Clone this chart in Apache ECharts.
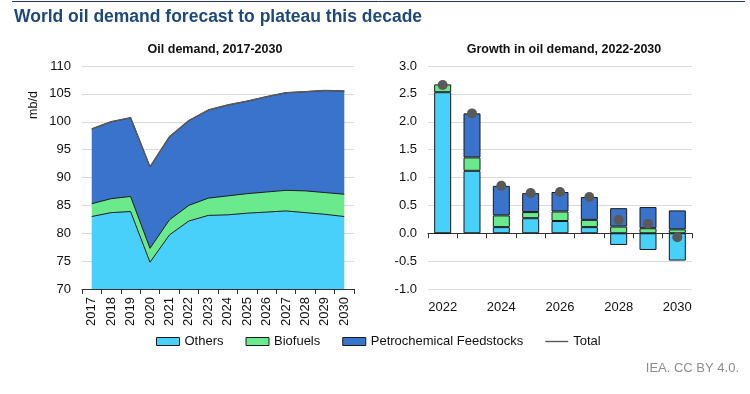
<!DOCTYPE html>
<html>
<head>
<meta charset="utf-8">
<script src="https://cdn.jsdelivr.net/npm/echarts@6/dist/echarts.min.js"></script>
<style>
html,body{margin:0;padding:0;background:#fff;}
#c{width:750px;height:394px;}
</style>
</head>
<body>
<div id="c"></div>
<script>
// ---- Data: Oil demand, 2017-2030 (mb/d) ----
var years = ['2017','2018','2019','2020','2021','2022','2023','2024','2025','2026','2027','2028','2029','2030'];
var demandOthers   = [83.0, 83.7, 83.9, 74.8, 79.7, 82.2, 83.2, 83.3, 83.6, 83.8, 84.0, 83.7, 83.4, 83.0];
var demandBiofuels = [2.3, 2.5, 2.7, 2.5, 2.7, 2.8, 3.1, 3.4, 3.5, 3.6, 3.7, 3.9, 3.9, 4.0];
var demandPetchem  = [13.4, 13.8, 14.1, 14.6, 14.9, 15.2, 15.8, 16.3, 16.6, 17.1, 17.5, 17.8, 18.3, 18.5];
var demandTotal    = [98.7, 100.0, 100.7, 91.9, 97.3, 100.2, 102.1, 103.0, 103.7, 104.5, 105.2, 105.4, 105.6, 105.5];

// ---- Data: Growth in oil demand, 2022-2030 (mb/d) ----
var growthYears    = ['2022','2023','2024','2025','2026','2027','2028','2029','2030'];
var growthOthers   = [2.53, 1.12, 0.11, 0.27, 0.22, 0.11, -0.21, -0.30, -0.49];
var growthBiofuels = [0.14, 0.24, 0.21, 0.11, 0.17, 0.13, 0.12, 0.09, 0.07];
var growthPetchem  = [-0.01, 0.79, 0.53, 0.34, 0.35, 0.41, 0.33, 0.38, 0.34];
var growthTotal    = [2.66, 2.15, 0.85, 0.72, 0.74, 0.65, 0.24, 0.17, -0.07];

var leftTicks  = {min: 70, max: 110, interval: 5};
var rightTicks = {min: -1, max: 3, interval: 0.5};

var C_OTH = '#48CFFA', C_BIO = '#6AEA8C', C_PET = '#3A73CC', C_TOT = '#595959', C_EDGE = '#1a1a1a';
var FONT = 'Liberation Sans, Arial, sans-serif';

var chart = echarts.init(document.getElementById('c'), null, {renderer: 'canvas'});

function areaSeries(name, data, color) {
  return {
    name: name, type: 'line', stack: 'demand', xAxisIndex: 0, yAxisIndex: 0,
    data: data, symbol: 'none', showSymbol: false, color: color,
    lineStyle: {color: C_EDGE, width: 1},
    areaStyle: {color: color, opacity: 1},
    itemStyle: {color: color},
    emphasis: {disabled: true}, z: 2
  };
}
function barSeries(name, data, color) {
  return {
    name: name, type: 'bar', stack: 'growth', xAxisIndex: 1, yAxisIndex: 1,
    data: data, barWidth: 17, color: color,
    itemStyle: {color: color, borderColor: C_EDGE, borderWidth: 1},
    emphasis: {disabled: true}, z: 2
  };
}

var option = {
  backgroundColor: '#fff',
  animation: false,
  textStyle: {fontFamily: FONT},
  grid: [
    {left: 82, width: 272, top: 66, height: 223},
    {left: 428, width: 264, top: 66, height: 223}
  ],
  xAxis: [
    {
      type: 'category', gridIndex: 0, data: years, boundaryGap: true,
      axisLine: {lineStyle: {color: '#333', width: 1}},
      axisTick: {show: true, length: 5, interval: 0, lineStyle: {color: '#333'}},
      axisLabel: {interval: 0, rotate: 90, margin: 8, color: '#111', fontSize: 13, fontFamily: FONT},
      splitLine: {show: false}
    },
    {
      type: 'category', gridIndex: 1, data: growthYears, boundaryGap: true,
      axisLine: {onZero: true, lineStyle: {color: '#333', width: 1}},
      axisTick: {show: true, length: 5, interval: 0, lineStyle: {color: '#333'}},
      axisLabel: {show: false},
      splitLine: {show: false}
    },
    {
      type: 'category', gridIndex: 1, data: growthYears, boundaryGap: true, position: 'bottom',
      axisLine: {show: false, onZero: false},
      axisTick: {show: false},
      axisLabel: {interval: 1, margin: 12, color: '#111', fontSize: 13, fontFamily: FONT},
      splitLine: {show: false}
    }
  ],
  yAxis: [
    {
      type: 'value', gridIndex: 0, min: leftTicks.min, max: leftTicks.max, interval: leftTicks.interval,
      axisLine: {show: false}, axisTick: {show: false},
      axisLabel: {margin: 11, color: '#111', fontSize: 13, fontFamily: FONT},
      splitLine: {lineStyle: {color: '#d9d9d9', width: 1}}
    },
    {
      type: 'value', gridIndex: 1, min: rightTicks.min, max: rightTicks.max, interval: rightTicks.interval,
      axisLine: {show: false}, axisTick: {show: false},
      axisLabel: {margin: 11, color: '#111', fontSize: 13, fontFamily: FONT,
        formatter: function (v) { return v.toFixed(1); }},
      splitLine: {lineStyle: {color: '#d9d9d9', width: 1}}
    }
  ],
  legend: {
    left: 156, top: 335, padding: 0, itemWidth: 23, itemHeight: 8, itemGap: 22,
    textStyle: {fontSize: 13, color: '#111', fontFamily: FONT},
    selectedMode: false,
    data: [
      {name: 'Others', icon: 'rect', itemStyle: {color: C_OTH, borderColor: C_EDGE, borderWidth: 1}},
      {name: 'Biofuels', icon: 'rect', itemStyle: {color: C_BIO, borderColor: C_EDGE, borderWidth: 1}},
      {name: 'Petrochemical Feedstocks', icon: 'rect', itemStyle: {color: C_PET, borderColor: C_EDGE, borderWidth: 1}},
      {name: 'Total', icon: 'path://M0,0 L0,0 M0,3.3 L23,3.3 L23,4.7 L0,4.7 Z M23,8 L23,8',
        itemStyle: {color: C_TOT, borderWidth: 0}}
    ]
  },
  series: [
    areaSeries('Others', demandOthers, C_OTH),
    areaSeries('Biofuels', demandBiofuels, C_BIO),
    areaSeries('Petrochemical Feedstocks', demandPetchem, C_PET),
    {
      name: 'Total', type: 'line', xAxisIndex: 0, yAxisIndex: 0, data: demandTotal,
      symbol: 'none', showSymbol: false, color: C_TOT,
      lineStyle: {color: C_TOT, width: 1.5}, emphasis: {disabled: true}, z: 3
    },
    barSeries('Others', growthOthers, C_OTH),
    barSeries('Biofuels', growthBiofuels, C_BIO),
    barSeries('Petrochemical Feedstocks', growthPetchem, C_PET),
    {
      name: 'Total', type: 'scatter', xAxisIndex: 1, yAxisIndex: 1, data: growthTotal,
      symbol: 'circle', symbolSize: 10, itemStyle: {color: C_TOT, opacity: 1},
      emphasis: {disabled: true}, z: 5
    }
  ],
  graphic: [
    {type: 'line', shape: {x1: 12, y1: 1.5, x2: 745, y2: 1.5}, style: {stroke: '#1f3864', lineWidth: 1}},
    {type: 'text', left: 14, top: 8, style: {text: 'World oil demand forecast to plateau this decade',
      font: 'bold 17.5px ' + FONT, fill: '#1f497d'}},
    {type: 'text', x: 215, y: 49.5, style: {text: 'Oil demand, 2017-2030', font: 'bold 12.5px ' + FONT,
      fill: '#111', textAlign: 'center', textVerticalAlign: 'middle'}},
    {type: 'text', x: 564, y: 49.5, style: {text: 'Growth in oil demand, 2022-2030', font: 'bold 12.5px ' + FONT,
      fill: '#111', textAlign: 'center', textVerticalAlign: 'middle'}},
    {type: 'text', x: 34, y: 105, rotation: Math.PI / 2, style: {text: 'mb/d', font: '12.5px ' + FONT,
      fill: '#111', textAlign: 'center', textVerticalAlign: 'middle'}},
    {type: 'text', right: 11, top: 362, style: {text: 'IEA. CC BY 4.0.', font: '13px ' + FONT, fill: '#8c8c8c'}}
  ]
};
chart.setOption(option);
</script>
</body>
</html>
